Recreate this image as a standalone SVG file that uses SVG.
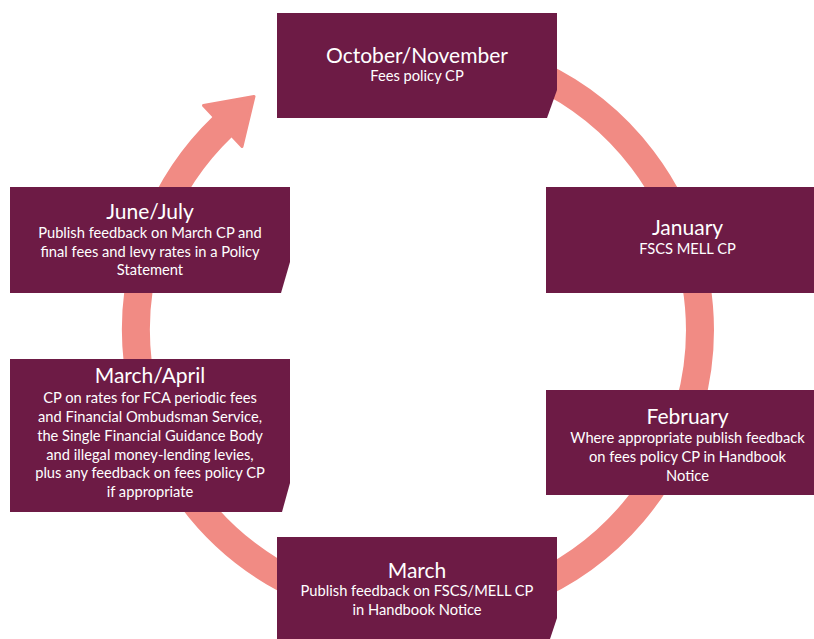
<svg xmlns="http://www.w3.org/2000/svg" width="814" height="639" viewBox="0 0 814 639">
<style>
.box{fill:#6d1b45}
.ring{fill:none;stroke:#f18b84;stroke-width:28}
.head{fill:#f18b84;stroke:#f18b84;stroke-width:3;stroke-linejoin:round}
text{font-family:Lato,"Liberation Sans",sans-serif;fill:#ffffff;text-anchor:middle}
.t{font-size:21px}
.b{font-size:14.7px}
</style>
<rect width="814" height="639" fill="#ffffff"/>
<g id="connectors">
<path class="ring" d="M 418 48 A 282 282 0 1 1 222.8 126.4"/>
<polygon class="head" points="203.5,105.5 242,146.5 254,96.5"/>
</g>
<g id="node-oct">
<polygon class="box" points="277,13 557,13 557,90 547,118 277,118"/>
<text class="t" x="417" y="63">October/November</text>
<text class="b" x="417" y="81">Fees policy CP</text>
</g>
<g id="node-jan">
<rect class="box" x="546" y="187" width="283" height="106"/>
<text class="t" x="687.5" y="235">January</text>
<text class="b" x="687.5" y="254">FSCS MELL CP</text>
</g>
<g id="node-feb">
<rect class="box" x="546" y="390" width="283" height="105"/>
<text class="t" x="687.5" y="424">February</text>
<text class="b" x="687.5" y="443">Where appropriate publish feedback</text>
<text class="b" x="687.5" y="462">on fees policy CP in Handbook</text>
<text class="b" x="687.5" y="481">Notice</text>
</g>
<g id="node-march">
<polygon class="box" points="277,537 557,537 557,618 550,639 277,639"/>
<text class="t" x="417" y="578">March</text>
<text class="b" x="417" y="596">Publish feedback on FSCS/MELL CP</text>
<text class="b" x="417" y="615">in Handbook Notice</text>
</g>
<g id="node-marapr">
<polygon class="box" points="10,359 290,359 290,483 282,512 10,512"/>
<text class="t" x="150" y="383">March/April</text>
<text class="b" x="150" y="403">CP on rates for FCA periodic fees</text>
<text class="b" x="150" y="422">and Financial Ombudsman Service,</text>
<text class="b" x="150" y="441">the Single Financial Guidance Body</text>
<text class="b" x="150" y="460">and illegal money-lending levies,</text>
<text class="b" x="150" y="478">plus any feedback on fees policy CP</text>
<text class="b" x="150" y="497">if appropriate</text>
</g>
<g id="node-junjul">
<polygon class="box" points="10,187 290,187 290,262 281,293 10,293"/>
<text class="t" x="150" y="219">June/July</text>
<text class="b" x="150" y="238">Publish feedback on March CP and</text>
<text class="b" x="150" y="256.5">final fees and levy rates in a Policy</text>
<text class="b" x="150" y="275">Statement</text>
</g>
</svg>
